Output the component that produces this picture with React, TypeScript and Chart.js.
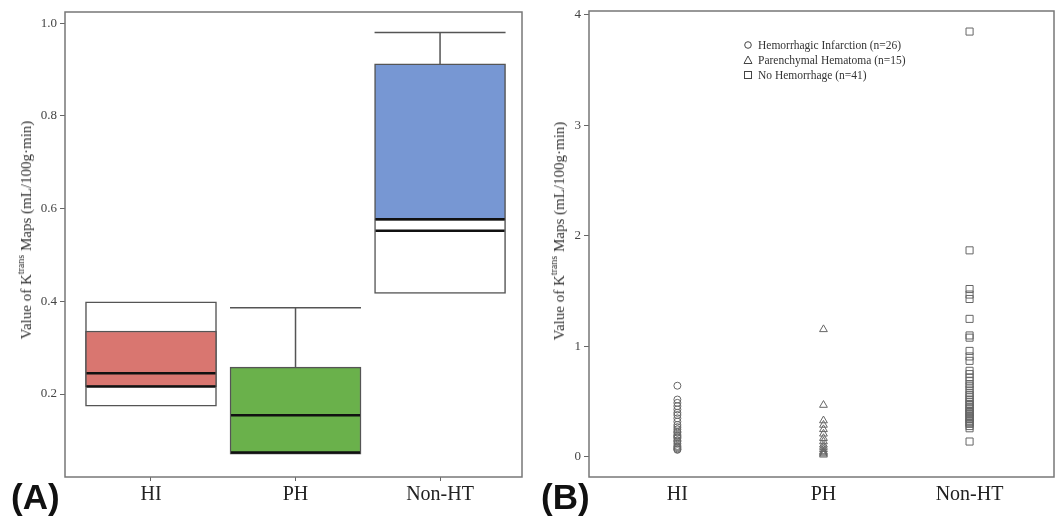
import React, { useEffect, useRef } from 'react';
import { Chart, registerables } from 'chart.js';

Chart.register(...registerables);

const FONT = "'Liberation Serif', 'DejaVu Serif', serif";

const categories = ['HI', 'PH', 'Non-HT'];
const leftYTicks = [0.2, 0.4, 0.6, 0.8, 1.0];
const rightYTicks = [0, 1, 2, 3, 4];

// Panel A box elements
const outerLow: (number | null)[] = [0.174, null, 0.417];
const outerHigh: (number | null)[] = [0.399, null, 0.577];
const boxLow = [0.216, 0.07, 0.577];
const boxHigh = [0.336, 0.258, 0.912];
const medianLine = [0.245, 0.154, 0.552];
const lowerLine = [0.216, 0.074, 0.577];
const whiskerHigh: (number | null)[] = [null, 0.386, 0.98];
const boxColors = ['#d97670', '#6ab14b', '#7797d3'];

// Panel B individual values
const hiValues = [
  0.645, 0.52, 0.49, 0.46, 0.43, 0.4, 0.38, 0.35, 0.32, 0.29, 0.27, 0.25, 0.23,
  0.22, 0.2, 0.19, 0.18, 0.17, 0.15, 0.14, 0.12, 0.1, 0.09, 0.08, 0.07, 0.065,
];
const phValues = [
  1.155, 0.47, 0.33, 0.29, 0.25, 0.21, 0.17, 0.14, 0.11, 0.09, 0.07, 0.05, 0.04,
  0.03, 0.02,
];
const nonHtValues = [
  3.85, 1.87, 1.52, 1.47, 1.43, 1.25, 1.1, 1.08, 0.96, 0.91, 0.87, 0.78, 0.75,
  0.72, 0.69, 0.66, 0.64, 0.61, 0.58, 0.56, 0.54, 0.52, 0.5, 0.48, 0.47, 0.45,
  0.44, 0.42, 0.41, 0.4, 0.39, 0.37, 0.36, 0.35, 0.34, 0.32, 0.31, 0.3, 0.28,
  0.26, 0.14,
];
const legendLabels = [
  'Hemorrhagic Infarction (n=26)',
  'Parenchymal Hematoma (n=15)',
  'No Hemorrhage (n=41)',
];

const framePlugin = {
  id: 'frame',
  afterDraw(chart: any) {
    const { ctx, chartArea: a } = chart;
    ctx.save();
    ctx.strokeStyle = '#777';
    ctx.lineWidth = 1.5;
    ctx.strokeRect(a.left, a.top, a.right - a.left, a.bottom - a.top);
    ctx.restore();
  },
};

const boxLinesPlugin = {
  id: 'boxLines',
  afterDatasetsDraw(chart: any) {
    const meta = chart.getDatasetMeta(0);
    const y = chart.scales.y;
    const ctx = chart.ctx;
    ctx.save();
    meta.data.forEach((bar: any, i: number) => {
      const { x, width } = bar.getProps(['x', 'width'], true);
      const l = x - width / 2;
      const r = x + width / 2;
      const wh = whiskerHigh[i];
      if (wh != null) {
        const yTop = y.getPixelForValue(boxHigh[i]);
        const yCap = y.getPixelForValue(wh);
        ctx.strokeStyle = '#555';
        ctx.lineWidth = 1.5;
        ctx.beginPath();
        ctx.moveTo(x, yTop);
        ctx.lineTo(x, yCap);
        ctx.moveTo(l, yCap);
        ctx.lineTo(r, yCap);
        ctx.stroke();
      }
      ctx.strokeStyle = '#111';
      ctx.lineWidth = 2.5;
      [medianLine[i], lowerLine[i]].forEach((v) => {
        const py = y.getPixelForValue(v);
        ctx.beginPath();
        ctx.moveTo(l + 1, py);
        ctx.lineTo(r - 1, py);
        ctx.stroke();
      });
    });
    ctx.restore();
  },
};

function yAxis(min: number, max: number, ticks: number[], width: number, digits: number) {
  return {
    type: 'linear',
    min,
    max,
    grid: { display: true, drawOnChartArea: false, drawTicks: true, tickLength: 5, color: '#666', lineWidth: 1 },
    border: { display: false },
    afterBuildTicks: (s: any) => {
      s.ticks = ticks.map((v) => ({ value: v }));
    },
    afterFit: (s: any) => {
      s.width = width;
    },
    ticks: {
      callback: (v: any) => Number(v).toFixed(digits),
      font: { family: FONT, size: 13 },
      color: '#444',
      padding: 3,
      autoSkip: false,
    },
  };
}

function xAxis(min: number, max: number, tickColor: string) {
  return {
    type: 'linear',
    min,
    max,
    offset: false,
    grid: { display: true, drawOnChartArea: false, drawTicks: true, tickLength: 4, color: tickColor, offset: false },
    border: { display: false },
    afterBuildTicks: (s: any) => {
      s.ticks = categories.map((_, i) => ({ value: i }));
    },
    afterFit: (s: any) => {
      s.height = 40;
    },
    ticks: {
      callback: (_v: any, i: number) => categories[i] ?? '',
      font: { family: FONT, size: 20 },
      color: '#222',
      padding: 2,
      maxRotation: 0,
      autoSkip: false,
    },
  };
}

function LeftChart() {
  const ref = useRef<HTMLCanvasElement>(null);
  useEffect(() => {
    const whiteData: any[] = [];
    categories.forEach((_, i) => {
      const lo = outerLow[i];
      const hi = outerHigh[i];
      if (lo != null && hi != null) whiteData.push({ x: i, y: [lo, hi] });
    });
    const colorData = categories.map((_, i) => ({ x: i, y: [boxLow[i], boxHigh[i]] }));
    const chart = new Chart(ref.current as HTMLCanvasElement, {
      type: 'bar',
      data: {
        datasets: [
          {
            data: colorData,
            backgroundColor: boxColors,
            borderColor: '#555',
            borderWidth: 1.5,
            borderSkipped: false,
            barThickness: 131,
            grouped: false,
          } as any,
          {
            data: whiteData,
            backgroundColor: '#ffffff',
            borderColor: '#555',
            borderWidth: 1.5,
            borderSkipped: false,
            barThickness: 131,
            grouped: false,
          } as any,
        ],
      },
      options: {
        animation: false,
        responsive: false,
        layout: { padding: { left: 0, right: 8, top: 12, bottom: 0 } },
        plugins: { legend: { display: false }, tooltip: { enabled: false } },
        scales: {
          x: xAxis(-0.595, 2.567, '#666') as any,
          y: yAxis(0.021, 1.024, leftYTicks, 65, 1) as any,
        },
      },
      plugins: [framePlugin, boxLinesPlugin],
    });
    return () => chart.destroy();
  }, []);
  return <canvas ref={ref} width={530} height={517} style={{ position: 'absolute', left: 0, top: 0 }} />;
}

function RightChart() {
  const ref = useRef<HTMLCanvasElement>(null);
  useEffect(() => {
    const common = {
      borderColor: '#666',
      backgroundColor: 'rgba(255,255,255,0)',
      borderWidth: 1,
      showLine: false,
    };
    const chart = new Chart(ref.current as HTMLCanvasElement, {
      type: 'scatter',
      data: {
        datasets: [
          { ...common, label: legendLabels[0], data: hiValues.map((v) => ({ x: 0, y: v })), pointStyle: 'circle', pointRadius: 3.5 },
          { ...common, label: legendLabels[1], data: phValues.map((v) => ({ x: 1, y: v })), pointStyle: 'triangle', pointRadius: 4.5 },
          { ...common, label: legendLabels[2], data: nonHtValues.map((v) => ({ x: 2, y: v })), pointStyle: 'rect', pointRadius: 5 },
        ] as any,
      },
      options: {
        animation: false,
        responsive: false,
        layout: { padding: { left: 0, right: 2, top: 11, bottom: 0 } },
        plugins: { legend: { display: false }, tooltip: { enabled: false } },
        scales: {
          x: xAxis(-0.605, 2.578, 'rgba(0,0,0,0)') as any,
          y: yAxis(-0.181, 4.036, rightYTicks, 59, 0) as any,
        },
      },
      plugins: [framePlugin],
    });
    return () => chart.destroy();
  }, []);
  return <canvas ref={ref} width={530} height={517} style={{ position: 'absolute', left: 530, top: 0 }} />;
}

function YTitle({ cx, cy }: { cx: number; cy: number }) {
  return (
    <div
      style={{
        position: 'absolute',
        left: cx,
        top: cy,
        transform: 'translate(-50%, -50%) rotate(-90deg)',
        whiteSpace: 'nowrap',
        fontFamily: FONT,
        fontSize: 15,
        color: '#333',
        lineHeight: '18px',
      }}
    >
      Value of K<sup style={{ fontSize: 10, verticalAlign: 'baseline', position: 'relative', top: -7 }}>trans</sup> Maps (mL/100g·min)
    </div>
  );
}

function LegendSymbol({ kind }: { kind: number }) {
  return (
    <svg width={10} height={10} style={{ display: 'block' }}>
      {kind === 0 && <circle cx={5} cy={5} r={3.3} fill="none" stroke="#444" strokeWidth={1} />}
      {kind === 1 && <polygon points="5,1 9,8.5 1,8.5" fill="none" stroke="#444" strokeWidth={1} />}
      {kind === 2 && <rect x={1.5} y={1.5} width={7} height={7} fill="none" stroke="#444" strokeWidth={1} />}
    </svg>
  );
}

export default function App() {
  return (
    <div style={{ position: 'fixed', left: 0, top: 0, width: 1060, height: 517, background: '#fff', overflow: 'hidden' }}>
      <LeftChart />
      <RightChart />
      <YTitle cx={27} cy={230} />
      <YTitle cx={560} cy={231} />
      <div style={{ position: 'absolute', left: 743, top: 37 }}>
        {legendLabels.map((t, i) => (
          <div key={t} style={{ display: 'flex', alignItems: 'center', height: 15 }}>
            <LegendSymbol kind={i} />
            <span style={{ marginLeft: 5, fontFamily: FONT, fontSize: 11.5, color: '#333', whiteSpace: 'nowrap' }}>{t}</span>
          </div>
        ))}
      </div>
      <div style={{ position: 'absolute', left: 11, top: 477, fontFamily: "'Liberation Sans', Arial, sans-serif", fontWeight: 'bold', fontSize: 35, color: '#111' }}>
        (A)
      </div>
      <div style={{ position: 'absolute', left: 541, top: 477, fontFamily: "'Liberation Sans', Arial, sans-serif", fontWeight: 'bold', fontSize: 35, color: '#111' }}>
        (B)
      </div>
    </div>
  );
}
